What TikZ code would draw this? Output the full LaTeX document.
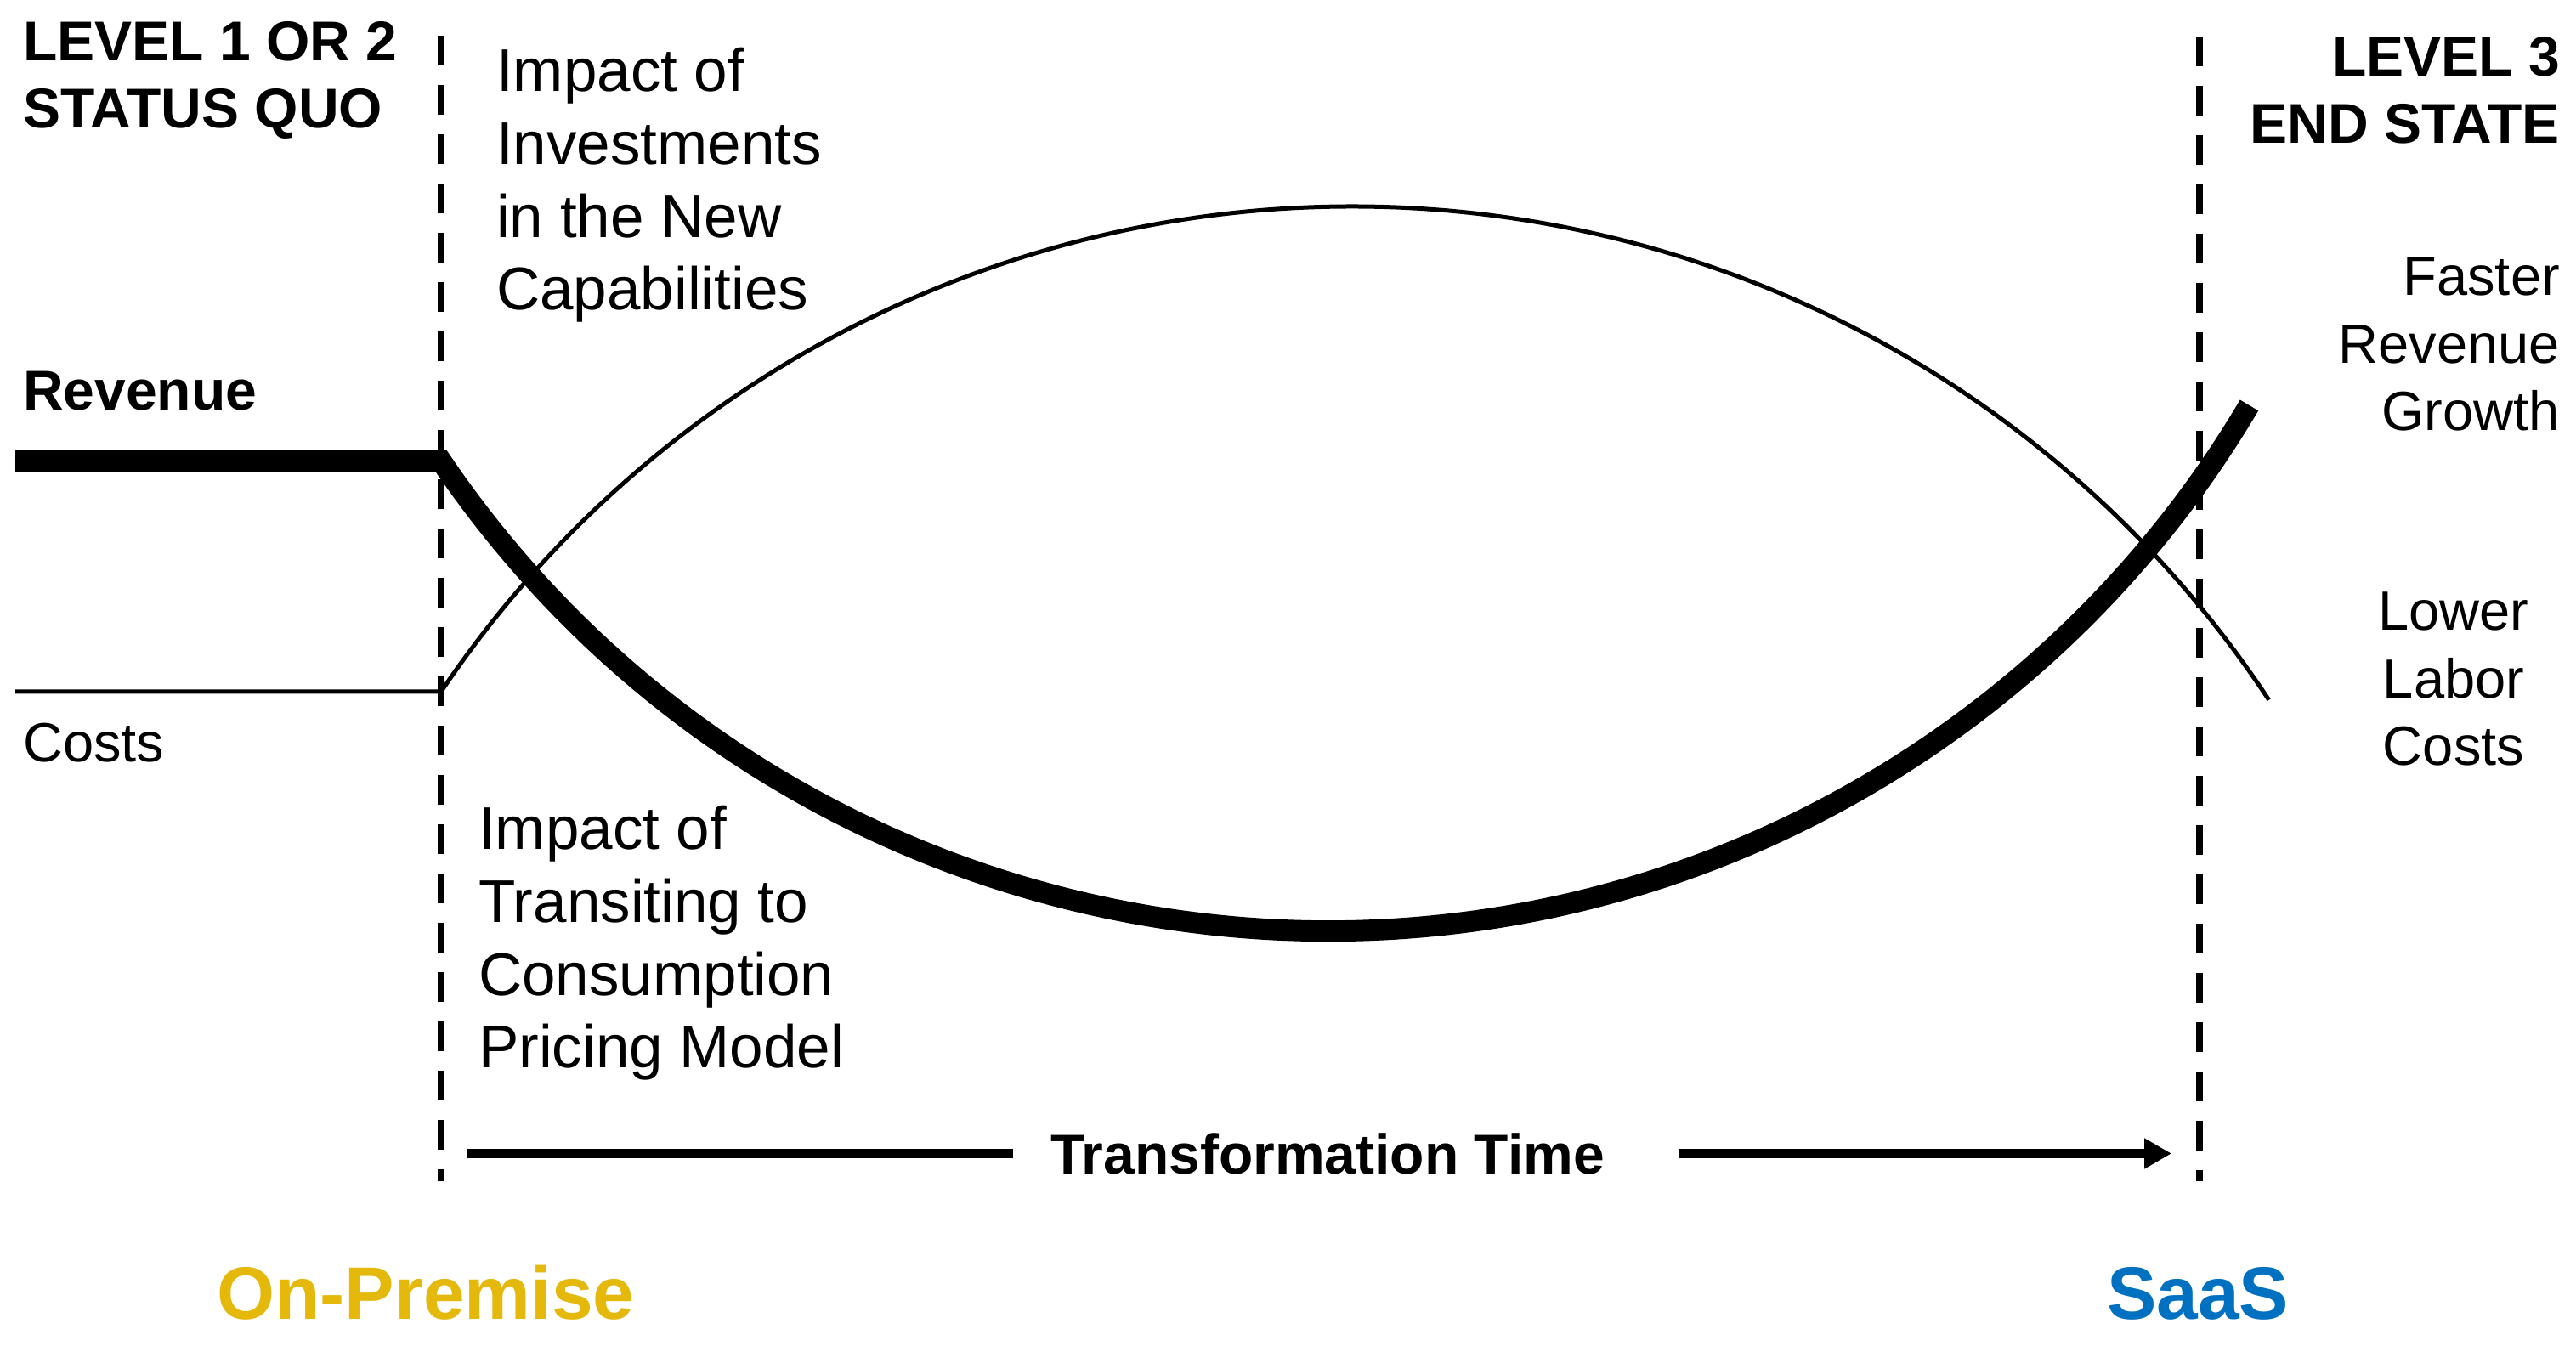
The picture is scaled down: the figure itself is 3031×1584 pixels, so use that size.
\documentclass[tikz,border=0pt]{standalone}
\usepackage{fontspec}
\setmainfont{Liberation Sans}
\usetikzlibrary{arrows.meta}
\definecolor{premgold}{RGB}{229,184,12}
\definecolor{saasblue}{RGB}{0,112,192}
\begin{document}
\begin{tikzpicture}[x=1pt,y=1pt,
  head/.style={font=\fontsize{66}{79}\selectfont\bfseries, inner sep=0pt},
  lbl/.style={font=\fontsize{71}{85.7}\selectfont, inner sep=0pt, align=left},
  rlbl/.style={font=\fontsize{65}{79.5}\selectfont, inner sep=0pt},
  big/.style={font=\fontsize{87.5}{100}\selectfont\bfseries, inner sep=0pt},
  divider/.style={line width=7.5pt, dash pattern=on 35pt off 23pt},
  revline/.style={line width=25pt, line join=miter},
  costline/.style={line width=5pt},
  timearrow/.style={line width=11pt}]
\useasboundingbox (0,0) rectangle (3031,1584);

% dividers
\coordinate (dLt) at (519,1542);
\coordinate (dLb) at (519,194);
\coordinate (dRt) at (2588,1541);
\coordinate (dRb) at (2588,194);
\draw[divider] (dLt) -- (dLb);
\draw[divider] (dRt) -- (dRb);

% headings (anchor = baseline of the last line)
\node[head, anchor=base west, align=left] (lvl12) at (27,1433) {LEVEL 1 OR 2\\STATUS QUO};
\node[head, anchor=base east, align=right] (lvl3) at (3012,1415) {LEVEL 3\\END STATE};

% labels
\node[lbl, anchor=base west] (invest) at (584,1219) {Impact of\\Investments\\in the New\\Capabilities};
\node[head, anchor=base west] (rev) at (27,1101) {Revenue};
\node[rlbl, anchor=base west] (cost) at (27,687) {Costs};
\node[lbl, anchor=base west] (trans) at (563,327) {Impact of\\Transiting to\\Consumption\\Pricing Model};
\node[rlbl, anchor=base east, align=right] (faster) at (3012,1077) {Faster\\Revenue\\Growth};
\node[rlbl, anchor=base, align=center] (lower) at (2887,683) {Lower\\Labor\\Costs};

% curves
\coordinate (revStart) at (18,1041.5);
\coordinate (revKnee) at (519,1041.5);
\draw[revline] (revStart) -- (revKnee) arc[start angle=214.13, end angle=329.4, radius=1260pt];
\coordinate (costStart) at (18,770);
\coordinate (costKnee) at (519,770);
\draw[costline] (costStart) -- (costKnee) arc[start angle=146.08, end angle=33.4, radius=1292pt];

% time arrow
\node[head, anchor=base] (ttime) at (1562,202) {Transformation Time};
\coordinate (aL) at (550,226.5);
\coordinate (tl) at (1192,226.5);
\coordinate (tr) at (1976,226.5);
\coordinate (aR) at (2555,226.5);
\draw[timearrow] (aL) -- (tl);
\draw[timearrow, -{Triangle[length=32pt,width=34pt]}] (tr) -- (aR);

% bottom labels
\node[big, anchor=base west, text=premgold] (onprem) at (255,31) {On-Premise};
\node[big, anchor=base, text=saasblue] (saas) at (2586,31) {SaaS};
\end{tikzpicture}
\end{document}
